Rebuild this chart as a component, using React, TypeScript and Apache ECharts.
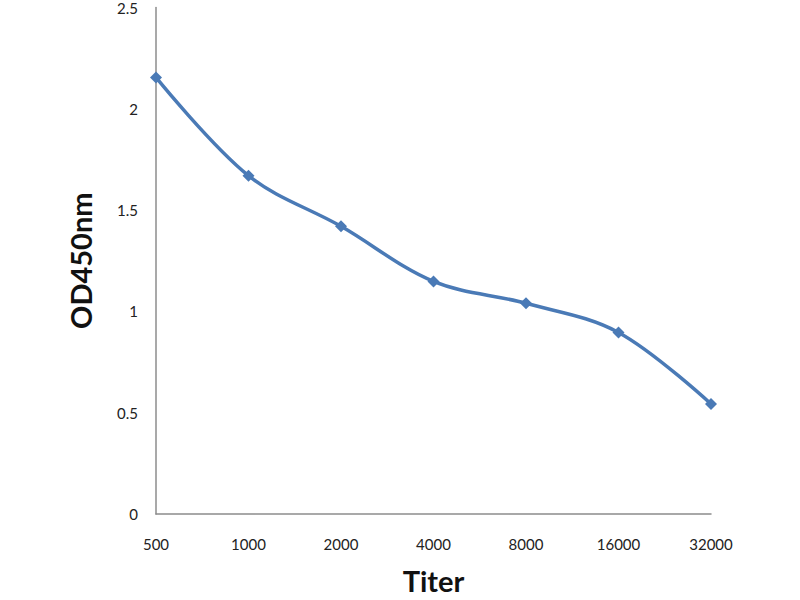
import React, { useEffect, useRef } from "react";
import * as echarts from "echarts";

const categories = ["500", "1000", "2000", "4000", "8000", "16000", "32000"];
const odValues = [2.155, 1.67, 1.42, 1.148, 1.04, 0.896, 0.543];
const yTicks = [0, 0.5, 1, 1.5, 2, 2.5];

export default function App() {
  const ref = useRef<HTMLDivElement>(null);
  useEffect(() => {
    document.body.style.margin = "0";
    const chart = echarts.init(ref.current!, null, { renderer: "svg" });
    chart.setOption({
      animation: false,
      backgroundColor: "#ffffff",
      grid: { left: 156, right: 89, top: 6, bottom: 77, containLabel: false },
      xAxis: {
        type: "category",
        data: categories,
        boundaryGap: false,
        axisLine: { show: true, lineStyle: { color: "#8c8c8c", width: 1.5 } },
        axisTick: { show: false },
        axisLabel: { color: "#222", fontSize: 15, fontFamily: "Lato", margin: 22 },
        name: "Titer",
        nameLocation: "middle",
        nameGap: 52,
        nameTextStyle: { fontSize: 29, fontWeight: "bold", color: "#111", fontFamily: "Lato" },
      },
      yAxis: {
        type: "value",
        min: yTicks[0],
        max: yTicks[yTicks.length - 1],
        interval: 0.5,
        splitLine: { show: false },
        axisLine: { show: true, lineStyle: { color: "#8c8c8c", width: 1.5 } },
        axisTick: { show: false },
        axisLabel: { color: "#222", fontSize: 15, fontFamily: "Lato", margin: 18 },
        name: "OD450nm",
        nameLocation: "middle",
        nameGap: 61,
        nameRotate: 90,
        nameTextStyle: { fontSize: 29, fontWeight: "bold", color: "#111", fontFamily: "Lato" },
      },
      series: [
        {
          type: "line",
          data: odValues,
          smooth: 0.35,
          symbol: "diamond",
          symbolSize: 12,
          lineStyle: { color: "#4a7ab6", width: 3.5 },
          itemStyle: { color: "#4a7ab6" },
        },
      ],
    });
    return () => chart.dispose();
  }, []);
  return <div ref={ref} style={{ width: 800, height: 600 }} />;
}
